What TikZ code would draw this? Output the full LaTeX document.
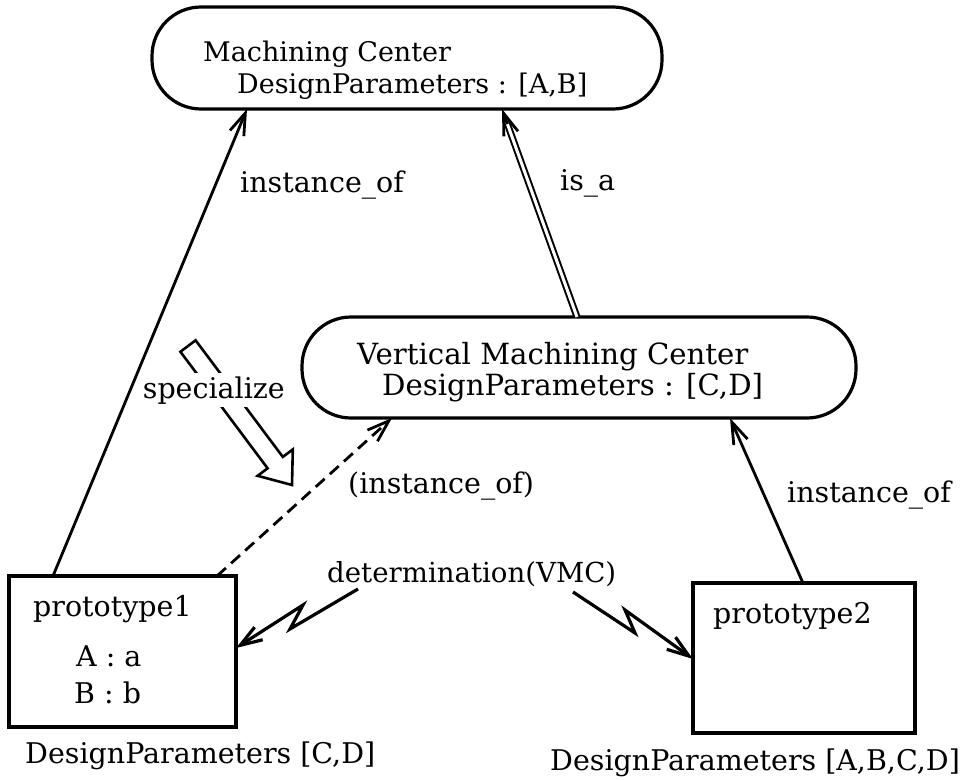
\documentclass[tikz,border=0pt]{standalone}
\usepackage{fontspec}
\setmainfont{DejaVu Serif}
\usetikzlibrary{arrows.meta,calc}
\begin{document}
\begin{tikzpicture}[x=1pt,y=-1pt,
  pill/.style={draw, line width=3.2pt, rounded corners=49pt, inner sep=0pt, outer sep=0pt},
  framebox/.style={draw, line width=3.2pt, inner sep=0pt, outer sep=0pt},
  lbl/.style={anchor=base west, inner sep=0pt, font=\fontsize{28.5}{32}\selectfont},
  vmclbl/.style={anchor=base west, inner sep=0pt, font=\fontsize{29.2}{33}\selectfont},
  mclbl/.style={anchor=base west, inner sep=0pt, font=\fontsize{27}{31}\selectfont},
  barbtip/.style={-{Straight Barb[length=22pt,width=15pt]}},
  conn/.style={line width=2.8pt, barbtip},
  dashconn/.style={line width=2.8pt, dash pattern=on 12pt off 7pt, barbtip},
  detarrow/.style={line width=3.2pt, line join=miter, barbtip},
  isaline/.style={line width=2pt, double, double distance=3pt}
]
\useasboundingbox (0,0) rectangle (966,781);

% class frames
\node[pill, minimum width=510pt, minimum height=102pt] (mc) at (407,58) {};
\node[pill, minimum width=554pt, minimum height=101pt] (vmc) at (579,367.5) {};
\node[framebox, minimum width=227pt, minimum height=151pt] (box1) at (122.5,651.5) {};
\node[framebox, minimum width=222pt, minimum height=150pt] (box2) at (804,658) {};

% texts inside the frames
\node[mclbl] (mct1) at (203,62) {Machining Center};
\node[mclbl] (mct2) at (237,94) {DesignParameters : [A,B]};
\node[vmclbl] (vmct1) at (357,364) {Vertical Machining Center};
\node[vmclbl] (vmct2) at (382,395) {DesignParameters : [C,D]};
\node[lbl] (p1) at (33,616) {prototype1};
\node[lbl] (p1a) at (76,666) {A : a};
\node[lbl] (p1b) at (74,703) {B : b};
\node[lbl] (p2) at (713,623) {prototype2};
\node[lbl] (p1dp) at (25,763) {DesignParameters [C,D]};
\node[lbl] (p2dp) at (550,770) {DesignParameters [A,B,C,D]};

% relations
\draw[conn] ([xshift=44pt]box1.north west) -- ([xshift=95pt]mc.south west);
\draw[conn] ([xshift=110pt]box2.north west) -- ([xshift=428pt]vmc.south west);
\draw[dashconn] ([xshift=208pt]box1.north west) -- ([xshift=90pt]vmc.south west);

% is_a double link
\coordinate (isaS) at ([xshift=275pt]vmc.north west);
\coordinate (isaT) at ([xshift=350pt]mc.south west);
\draw[isaline, shorten >=12pt] (isaS) -- (isaT);
\draw[conn] ($(isaT)!16pt!(isaS)$) -- (isaT);

% determination links
\node[lbl, font=\fontsize{27.6}{31}\selectfont] (det) at (327,582) {determination(VMC)};
\coordinate (dl) at (358,589);
\coordinate (dr) at (573,592);
\draw[detarrow] (dl) -- (290,629) -- (303,605) -- ([yshift=3.5pt]box1.east);
\draw[detarrow] (dr) -- (635,633) -- (625,610) -- ([yshift=-1pt]box2.west);

% specialize hollow arrow
\draw[line width=2.6pt, line join=miter, fill=white]
  (195.6,340.3) -- (282.8,456.9) -- (292.8,449.4) -- (292,485)
  -- (257.6,475.8) -- (267.6,468.3) -- (180.4,351.7) -- cycle;
\node[lbl, anchor=base east, fill=white, inner sep=3pt] (spec) at (288,398) {specialize};

% link labels
\node[lbl] (l1) at (240,192) {instance\_of};
\node[lbl] (l2) at (560,190) {is\_a};
\node[lbl] (l3) at (348,493) {(instance\_of)};
\node[lbl] (l4) at (787,502) {instance\_of};
\end{tikzpicture}
\end{document}
